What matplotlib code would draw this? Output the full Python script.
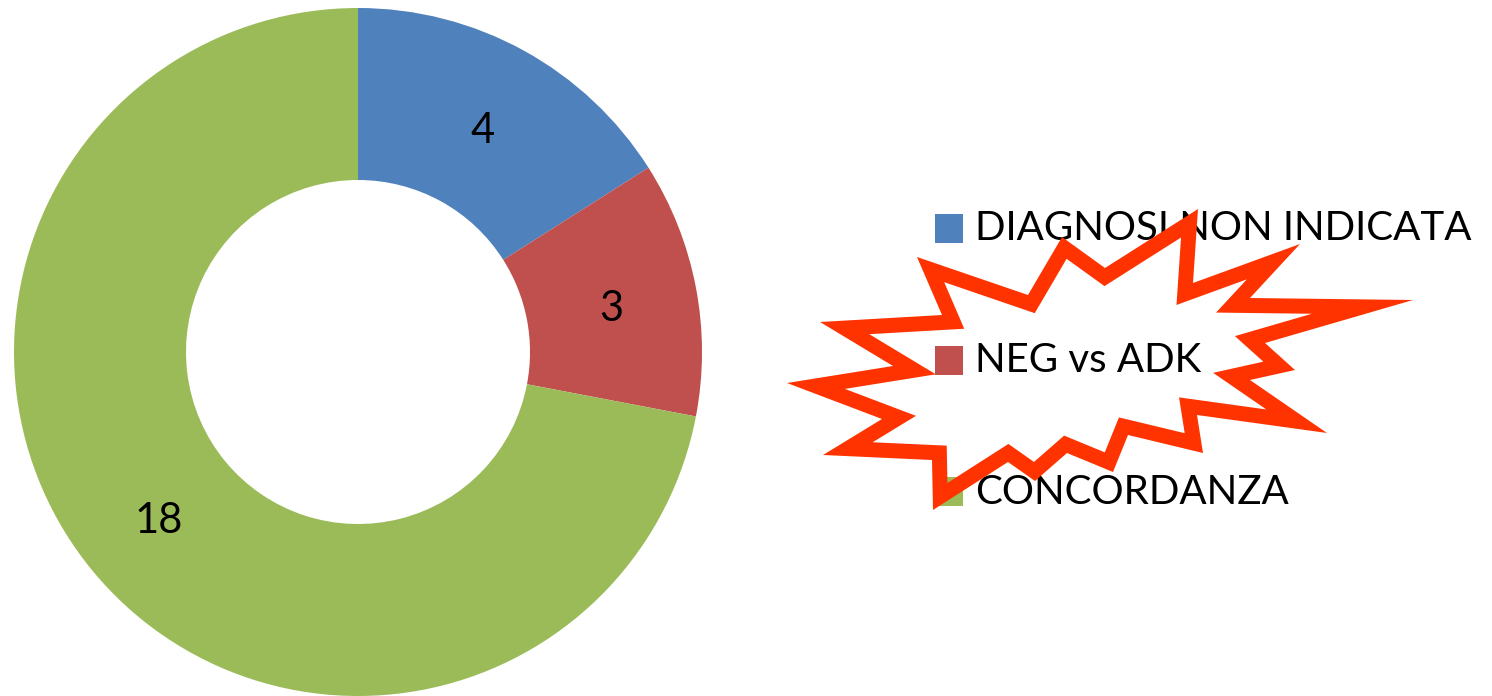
"""Donut chart of diagnosis agreement with a starburst callout over the legend."""

import numpy as np
import matplotlib
matplotlib.use('Agg')
import matplotlib.pyplot as plt
import matplotlib.transforms as mtransforms
from matplotlib.patches import Rectangle, PathPatch
from matplotlib.path import Path

W, H = 1492, 696

categories = ['DIAGNOSI NON INDICATA', 'NEG vs ADK', 'CONCORDANZA']
values = [4, 3, 18]
colors = ['#4F81BD', '#C0504D', '#9BBB59']

# starburst outline, outer edge of the stroke, in image pixels (y down)
star_x = [787, 882, 823, 932, 933, 1008, 1035, 1067, 1113, 1128, 1203, 1197, 1327, 1250,
          1295, 1265, 1413, 1250, 1300, 1193, 1198, 1105, 1062, 1028, 917, 942, 820, 893]
star_y = [383, 419, 455, 460, 510, 462, 481, 453, 472, 435, 453, 415, 433, 380,
          370, 343, 300, 298, 244, 283, 209, 268, 237, 295, 257, 315, 322, 366]
star_width = 15
star_color = '#FF3300'

plt.rcParams['font.family'] = ['Lato', 'DejaVu Sans']

fig = plt.figure(figsize=(W / 100, H / 100), dpi=100)

# donut: centre (358, 352), radius 344 px
ax = fig.add_axes([14 / W, 0, 688 / W, 688 / H])
total = sum(values)
_, _, autotexts = ax.pie(values, colors=colors, startangle=90, counterclock=False, radius=1,
                         wedgeprops=dict(width=0.5, edgecolor='none'),
                         autopct=lambda p: f'{round(p * total / 100)}', pctdistance=0.75,
                         textprops=dict(fontsize=30, color='black'))
# Excel puts the numbers a little lower than the true centre
for t in autotexts:
    t.set_transform(mtransforms.offset_copy(ax.transData, fig=fig, x=0, y=-5, units='dots'))
ax.set_xlim(-1, 1)
ax.set_ylim(-1, 1)
ax.axis('off')

# overlay in pixel coordinates for legend and callout
ov = fig.add_axes([0, 0, 1, 1])
ov.set_xlim(0, W)
ov.set_ylim(H, 0)
ov.axis('off')

row_y = [228, 360, 491]
for label, color, y in zip(categories, colors, row_y):
    ov.add_patch(Rectangle((935, y - 14), 28, 29, facecolor=color, edgecolor='none'))
    ov.text(975, y + 1, label, fontsize=29, va='center', ha='left', color='black')

# build the stroke as a ring: outer outline plus a mitred inward offset
pts = np.column_stack([star_x, star_y]).astype(float)
area = 0.5 * np.sum(pts[:, 0] * np.roll(pts[:, 1], -1) - np.roll(pts[:, 0], -1) * pts[:, 1])
d = np.roll(pts, -1, axis=0) - pts
d /= np.linalg.norm(d, axis=1)[:, None]
n = np.column_stack([-d[:, 1], d[:, 0]])
if area < 0:
    n = -n
n_prev = np.roll(n, 1, axis=0)
inner = pts + star_width * (n_prev + n) / (1 + np.sum(n_prev * n, axis=1))[:, None]

outer_ring = np.vstack([pts, pts[:1]])
inner_ring = np.vstack([inner[::-1], inner[-1:]])
verts = np.vstack([outer_ring, inner_ring])
codes = ([Path.MOVETO] + [Path.LINETO] * (len(pts) - 1) + [Path.CLOSEPOLY]) * 2
ov.add_patch(PathPatch(Path(verts, codes), facecolor=star_color, edgecolor='none', zorder=5))

fig.savefig('out.png', dpi=100)
